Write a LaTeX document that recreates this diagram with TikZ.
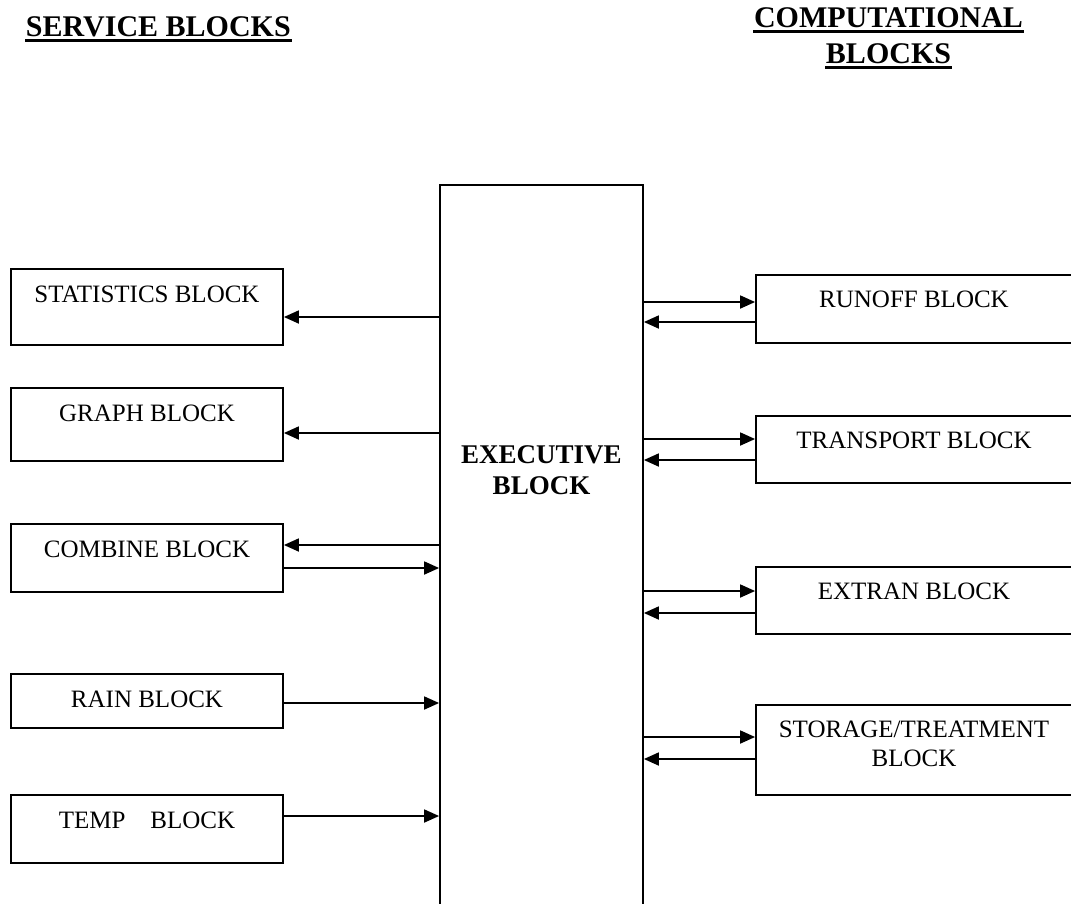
\documentclass[tikz,border=0pt]{standalone}
\usepackage{fontspec}
\setmainfont{Liberation Serif}
\usetikzlibrary{arrows.meta,
                positioning,
                calc}

\begin{document}
\begin{tikzpicture}[x=1pt,y=-1pt,
  line width=1.8pt,
  arr/.style={-{Triangle[length=15pt,width=13pt]}},
  sblock/.style={draw, minimum width=272pt, inner sep=0pt, anchor=north,
                 text height=34pt, text depth=#1, font=\fontsize{25}{29}\selectfont},
  cblock/.style={draw, minimum width=316pt, inner sep=0pt, anchor=north,
                 text height=33pt, text depth=#1, font=\fontsize{25}{29}\selectfont},
  heading/.style={inner sep=0pt, font=\fontsize{30}{36}\selectfont\bfseries},
  uline/.style={line width=3pt}]
 \clip (0,0) rectangle (1071,903);
 % headings
 \node[heading, anchor=base west] (svc) at (25,36) {SERVICE BLOCKS};
 \node[heading, anchor=base] (comp) at (888.5,27) {COMPUTATIONAL};
 \node[heading, anchor=base] (compb) at (888.5,63) {BLOCKS};
 \foreach \h in {svc,comp,compb}
   \draw[uline] ([yshift=-4.5pt]\h.base west) -- ([yshift=-4.5pt]\h.base east);
 % executive
 \node[draw, minimum width=203pt, minimum height=760pt, anchor=north, inner sep=0pt] (exec) at (541.5,184) {};
 \node[font=\fontsize{27}{31}\selectfont\bfseries, align=center] (exectext) at (541.5,470) {EXECUTIVE\\BLOCK};
 % service blocks
 \node[sblock=42pt] (stat) at (147,268) {STATISTICS BLOCK};
 \node[sblock=39pt] (graph) at (147,387) {GRAPH BLOCK};
 \node[sblock=34pt] (comb) at (147,523) {COMBINE BLOCK};
 \node[sblock=20pt] (rain) at (147,673) {RAIN BLOCK};
 \node[sblock=34pt] (temp) at (147,794) {TEMP\hspace{25pt}BLOCK};
 % computational blocks
 \node[cblock=35pt] (runoff) at (914,274) {RUNOFF BLOCK};
 \node[cblock=34pt] (trans) at (914,415) {TRANSPORT BLOCK};
 \node[cblock=34pt] (extran) at (914,566) {EXTRAN BLOCK};
 \node[cblock=57pt] (stor) at (914,704) {\begin{tabular}[t]{@{}c@{}}STORAGE/TREATMENT\\BLOCK\end{tabular}};
 % connectors
 \draw[arr] (exec.west |- 0,317) -- (stat.east |- 0,317);
 \draw[arr] (exec.west |- 0,433) -- (graph.east |- 0,433);
 \draw[arr] (exec.west |- 0,545) -- (comb.east |- 0,545);
 \draw[arr] (comb.east |- 0,568) -- (exec.west |- 0,568);
 \draw[arr] (rain.east |- 0,703) -- (exec.west |- 0,703);
 \draw[arr] (temp.east |- 0,816) -- (exec.west |- 0,816);
 \foreach \blk/\yout/\yin in {runoff/302/322, trans/439/460, extran/591/613, stor/737/759} {
   \draw[arr] (exec.east |- 0,\yout) -- (\blk.west |- 0,\yout);
   \draw[arr] (\blk.west |- 0,\yin) -- (exec.east |- 0,\yin);
 }
\end{tikzpicture}
\end{document}
